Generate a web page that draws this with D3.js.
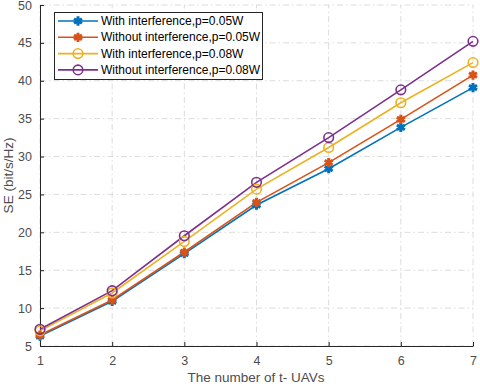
<!DOCTYPE html>
<html>
<head>
<meta charset="utf-8">
<script src="https://cdn.jsdelivr.net/npm/d3@7"></script>
<style>
body { margin: 0; background: #fff; }
svg { font-family: "Liberation Sans", Arial, sans-serif; }
</style>
</head>
<body>
<svg id="pic" width="480" height="386"></svg>
<script>
// data
var users = [1, 2, 3, 4, 5, 6, 7];
var withP05 = [6.3, 10.9, 17.2, 23.6, 28.4, 33.85, 39.1];
var withoutP05 = [6.45, 11.07, 17.4, 23.95, 29.2, 34.9, 40.75];
var withP08 = [7.0, 12.0, 18.8, 25.7, 31.2, 37.1, 42.4];
var withoutP08 = [7.2, 12.3, 19.55, 26.6, 32.5, 38.8, 45.2];
var names = ["With interference,p=0.05W", "Without interference,p=0.05W",
             "With interference,p=0.08W", "Without interference,p=0.08W"];
var colors = ["#0072BD", "#D95319", "#EDB120", "#7E2F8E"];
var xTicks = [1, 2, 3, 4, 5, 6, 7];
var yTicks = [5, 10, 15, 20, 25, 30, 35, 40, 45, 50];

var series = [withP05, withoutP05, withP08, withoutP08];

var svg = d3.select("#pic");
var x = d3.scaleLinear().domain([1, 7]).range([40, 473]);
var y = d3.scaleLinear().domain([5, 50]).range([346, 5]);

// grid
var grid = svg.append("g");
grid.selectAll(".gx").data(xTicks).enter().append("line")
  .attr("x1", d => x(d)).attr("x2", d => x(d))
  .attr("y1", y(5)).attr("y2", y(50))
  .attr("stroke", "#dcdcdc").attr("stroke-width", 1)
  .attr("stroke-dasharray", "6,3,1.5,3");
grid.selectAll(".gy").data(yTicks).enter().append("line")
  .attr("x1", x(1)).attr("x2", x(7))
  .attr("y1", d => y(d)).attr("y2", d => y(d))
  .attr("stroke", "#dcdcdc").attr("stroke-width", 1)
  .attr("stroke-dasharray", "6,3,1.5,3");

// axes, ticks inward like matlab
var xAxis = d3.axisBottom(x).tickValues(xTicks).tickFormat(d3.format("d"))
  .tickSizeInner(-4).tickSizeOuter(0).tickPadding(10);
var yAxis = d3.axisLeft(y).tickValues(yTicks).tickFormat(d3.format("d"))
  .tickSizeInner(-4).tickSizeOuter(0).tickPadding(8);

var gx = svg.append("g").attr("transform", "translate(0," + y(5) + ")").call(xAxis);
var gy = svg.append("g").attr("transform", "translate(" + x(1) + ",0)").call(yAxis);
[gx, gy].forEach(function(g) {
  g.select(".domain").attr("stroke", "#262626").attr("stroke-width", 1);
  g.selectAll(".tick line").attr("stroke", "#262626");
  g.selectAll("text").attr("fill", "#4d4d4d").style("font-size", "12.5px")
    .style("font-family", "Liberation Sans, Arial, sans-serif");
});

// lines
var line = d3.line().x((d, i) => x(users[i])).y(d => y(d));
series.forEach(function(s, k) {
  svg.append("path").datum(s)
    .attr("d", line)
    .attr("fill", "none")
    .attr("stroke", colors[k])
    .attr("stroke-width", 1.6);
});

function drawMarker(g, k, cx, cy) {
  if (k < 2) {
    g.append("path")
      .attr("d", d3.symbol().type(d3.symbolAsterisk).size(60)())
      .attr("transform", "translate(" + cx + "," + cy + ")")
      .attr("fill", "none").attr("stroke", colors[k]).attr("stroke-width", 3);
    g.append("circle").attr("cx", cx).attr("cy", cy).attr("r", 2.8).attr("fill", colors[k]);
  } else {
    g.append("circle").attr("cx", cx).attr("cy", cy).attr("r", 4.8)
      .attr("fill", "none").attr("stroke", colors[k]).attr("stroke-width", 1.6);
  }
}

series.forEach(function(s, k) {
  var g = svg.append("g");
  s.forEach(function(v, i) { drawMarker(g, k, x(users[i]), y(v)); });
});

// axis titles
svg.append("text").attr("x", 256).attr("y", 382).attr("text-anchor", "middle")
  .attr("fill", "#4d4d4d").style("font-size", "13.5px").text("The number of t- UAVs");
svg.append("text").attr("transform", "translate(13," + ((y(5) + y(50)) / 2) + ") rotate(-90)")
  .attr("text-anchor", "middle").attr("fill", "#4d4d4d").style("font-size", "13.5px")
  .text("SE (bit/s/Hz)");

// legend
var lg = svg.append("g");
lg.append("rect").attr("x", 54.5).attr("y", 12.5).attr("width", 208).attr("height", 67)
  .attr("fill", "#fff").attr("stroke", "#262626").attr("stroke-width", 1);
names.forEach(function(n, k) {
  var ly = 21 + k * 16.3;
  lg.append("line").attr("x1", 58).attr("x2", 98).attr("y1", ly).attr("y2", ly)
    .attr("stroke", colors[k]).attr("stroke-width", 1.6);
  drawMarker(lg, k, 78, ly);
  lg.append("text").attr("x", 101).attr("y", ly + 4).attr("fill", "#000")
    .style("font-size", "12px").text(n);
});
</script>
</body>
</html>
